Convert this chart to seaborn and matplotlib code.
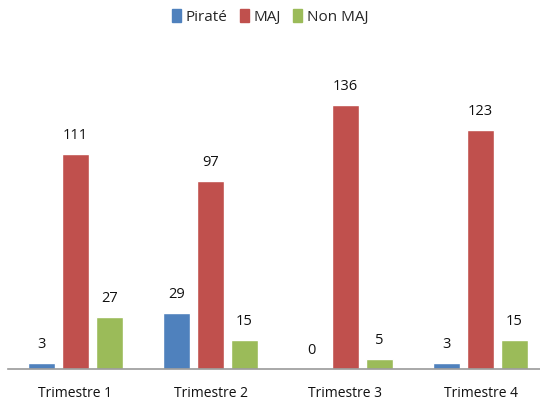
import matplotlib
matplotlib.use('Agg')
import matplotlib.pyplot as plt
import pandas as pd
import seaborn as sns

trimestres = ["Trimestre 1", "Trimestre 2", "Trimestre 3", "Trimestre 4"]
series = ["Piraté", "MAJ", "Non MAJ"]
pirate = [3, 29, 0, 3]
maj = [111, 97, 136, 123]
non_maj = [27, 15, 5, 15]
colors = ["#4F81BD", "#C0504D", "#9BBB59"]

df = pd.DataFrame({
	"Trimestre": trimestres * 3,
	"Série": [series[0]] * 4 + [series[1]] * 4 + [series[2]] * 4,
	"Valeur": pirate + maj + non_maj,
})

sns.set_theme(style="white")
plt.rcParams['font.family'] = ['Open Sans', 'DejaVu Sans']

fig = plt.figure(figsize=(5.4, 4.03), dpi=100)
ax = fig.add_axes([8 / 540, 34 / 403, 1.0, 291 / 403])

sns.barplot(data=df, x="Trimestre", y="Valeur", hue="Série", order=trimestres,
	hue_order=series, palette=colors, width=0.75, gap=0.2, saturation=1,
	legend=False, ax=ax)

for cont in ax.containers:
	ax.bar_label(cont, padding=8, fontsize=10.5, color="#111111", fontweight="medium")

ax.set_ylim(0, 150)
ax.set_xlim(-0.5, 3.5)
ax.set_xlabel("")
ax.set_ylabel("")
ax.set_yticks([])
ax.tick_params(axis="x", length=0, pad=12, labelsize=10, labelcolor="#111111")
for side in ["top", "right", "left"]:
	ax.spines[side].set_visible(False)
ax.spines["bottom"].set_color("#9a9a9a")
ax.spines["bottom"].set_linewidth(1.2)

handles = [plt.Rectangle((0, 0), 1, 1, color=c) for c in colors]
fig.legend(handles, series, loc="center", bbox_to_anchor=(0.5, 1 - 17 / 403),
	ncol=3, frameon=False, fontsize=11, handlelength=0.6, handleheight=0.9,
	handletextpad=0.3, columnspacing=0.8)

fig.savefig("out.png", dpi=100)
